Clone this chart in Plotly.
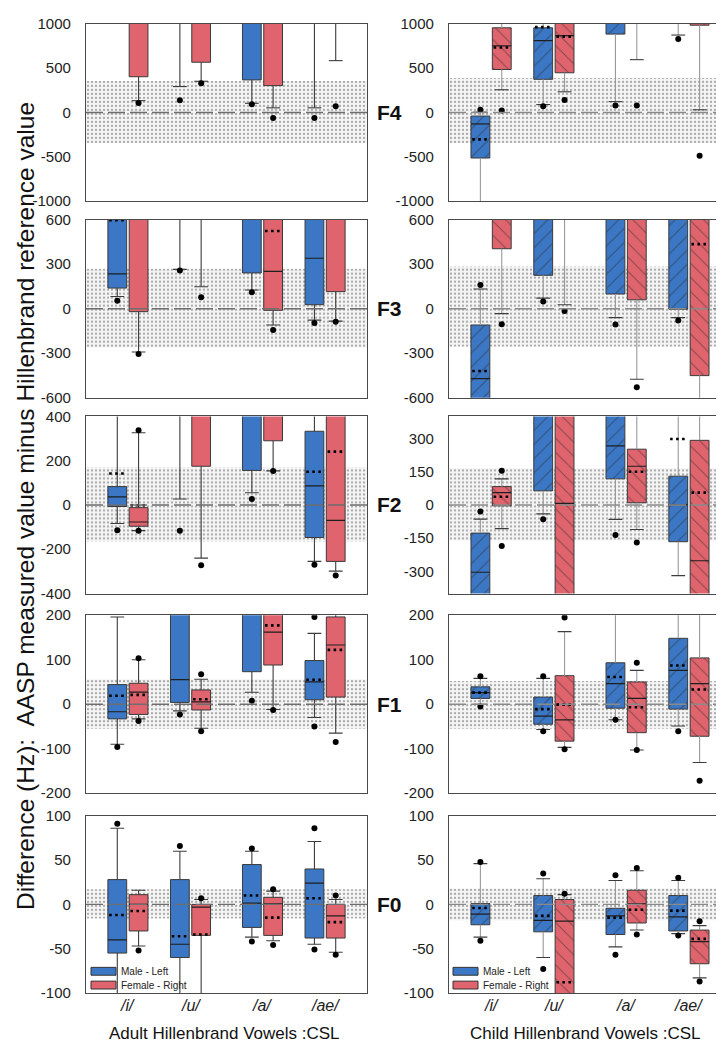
import plotly.graph_objects as go

# ---------------- data (Hz differences), vowel order: /i/, /u/, /a/, /ae/ ----------------
VOWELS = ["/i/", "/u/", "/a/", "/ae/"]
FORMANTS = ["F4", "F3", "F2", "F1", "F0"]

# Adult F4
A_F4_M = dict(q1=[1150, 1150, 367, 1150], med=[1200, 1200, 1150, 1200], q3=[1300, 1300, 1300, 1300],
              mean=[1200, 1200, 1150, 1200], wlo=[1100, 292, 103, 52], whi=[1400, 1400, 1400, 1400],
              dlo=[None, 137, 92, -63], dhi=[None, None, None, None])
A_F4_F = dict(q1=[403, 567, 303, 1150], med=[1150, 1150, 1150, 1200], q3=[1300, 1300, 1300, 1300],
              mean=[1150, 1150, 1150, 1150], wlo=[133, 352, 52, 585], whi=[1400, 1400, 1400, 1400],
              dlo=[107, 330, -63, 70], dhi=[None, None, None, None])
# Adult F3
A_F3_M = dict(q1=[139, 700, 241, 27], med=[234, 750, 700, 340], q3=[700, 800, 750, 700],
              mean=[597, 750, 700, 700], wlo=[82, 265, 126, -77], whi=[800, 850, 800, 800],
              dlo=[53, 258, 110, -97], dhi=[None, None, None, None])
A_F3_F = dict(q1=[-20, 700, -11, 115], med=[700, 750, 252, 700], q3=[750, 800, 700, 750],
              mean=[700, 750, 524, 700], wlo=[-292, 148, -110, -84], whi=[800, 850, 800, 800],
              dlo=[-305, 77, -144, -88], dhi=[None, None, None, None])
# Adult F2
A_F2_M = dict(q1=[-7, 500, 156, -147], med=[37, 520, 500, 86], q3=[83, 550, 550, 333],
              mean=[142, 520, 500, 150], wlo=[-84, 27, 55, -255], whi=[500, 600, 600, 500],
              dlo=[-114, -117, 27, -270], dhi=[None, None, None, None])
A_F2_F = dict(q1=[-96, 175, 290, -255], med=[-77, 500, 500, -70], q3=[-12, 550, 550, 500],
              mean=[-1, 500, 500, 241], wlo=[-116, -240, 154, -299], whi=[326, 600, 600, 600],
              dlo=[-117, -272, 154, -319], dhi=[338, None, None, None])
# Adult F1
A_F1_M = dict(q1=[-33, 4, 73, 10], med=[-17, 55, 300, 50], q3=[44, 300, 350, 98],
              mean=[19, 300, 300, 55], wlo=[-90, -15, 27, -30], whi=[196, 350, 400, 159],
              dlo=[-96, -23, 8, -50], dhi=[None, None, None, 196])
A_F1_F = dict(q1=[-23, -13, 88, 16], med=[27, 5, 162, 133], q3=[47, 32, 300, 196],
              mean=[21, 11, 177, 122], wlo=[-33, -54, -12, -65], whi=[100, 56, 350, 300],
              dlo=[-38, -61, -13, -85], dhi=[103, 67, None, None])
# Adult F0
A_F0_M = dict(q1=[-55, -60, -26, -38], med=[-40, -45, 1.5, 24], q3=[28, 28, 45, 40],
              mean=[-12, -36, 10, 7], wlo=[-150, -150, -37, -45], whi=[86, 60, 60, 71],
              dlo=[None, None, -42, -51], dhi=[91, 66, 63, 86])
A_F0_F = dict(q1=[-30, -35, -35, -38], med=[0, -3, 0.7, -13], q3=[11, 0, 8, 0],
              mean=[-7.5, -34, -15, -20], wlo=[-47, -150, -41, -54], whi=[16, 5.5, 15, 5.5],
              dlo=[-52, None, -46, -57], dhi=[None, 7, 17, 10])

# Child F4
C_F4_M = dict(q1=[-515, 374, 885, 1150], med=[-130, 811, 1150, 1200], q3=[-41, 956, 1300, 1300],
              mean=[-304, 963, 1150, 1200], wlo=[-1100, 89, 122, 874], whi=[4, 1100, 1400, 1400],
              dlo=[None, 70, 78, 830], dhi=[30, None, None, None])
C_F4_F = dict(q1=[485, 448, 1150, 985], med=[752, 867, 1200, 1150], q3=[956, 1150, 1300, 1300],
              mean=[733, 856, 1200, 1150], wlo=[256, 233, 596, 30], whi=[1100, 1300, 1400, 1400],
              dlo=[22, 141, 78, -489], dhi=[None, None, None, None])
# Child F3
C_F3_M = dict(q1=[-700, 225, 99, -4], med=[-471, 700, 700, 700], q3=[-110, 750, 750, 750],
              mean=[-420, 700, 700, 700], wlo=[-800, 71, -60, -60], whi=[133, 800, 800, 800],
              dlo=[None, 49, -106, -80], dhi=[159, None, None, None])
C_F3_F = dict(q1=[404, 700, 60, -451], med=[700, 750, 700, 700], q3=[750, 800, 750, 750],
              mean=[700, 750, 700, 435], wlo=[-33, 27, -475, -700], whi=[800, 850, 800, 800],
              dlo=[-104, -15, -530, None], dhi=[None, None, None, None])
# Child F2
C_F2_M = dict(q1=[-500, 64, 118, -166], med=[-304, 500, 267, 1], q3=[-127, 550, 500, 130],
              mean=[-500, 500, 500, 298], wlo=[-600, -40, -65, -319], whi=[-64, 600, 600, 500],
              dlo=[None, -65, -136, None], dhi=[-30, None, None, None])
C_F2_F = dict(q1=[-4, -500, 10, -500], med=[56, 7, 175, -252], q3=[83, 500, 252, 292],
              mean=[37, 600, 150, 56], wlo=[-107, -600, -111, -600], whi=[118, 600, 500, 500],
              dlo=[-185, None, -169, None], dhi=[155, None, None, None])
# Child F1
C_F1_M = dict(q1=[13, -45, -9, -11], med=[26, -27, 46, 76], q3=[39, 16, 93, 148],
              mean=[26, -11, 61, 87], wlo=[0, -57, -35, -49], whi=[58, 58, 300, 300],
              dlo=[-5, -61, -35, -61], dhi=[63, 63, None, None])
C_F1_F = dict(q1=[None, -83, -64, -72], med=[None, -35, 13, 46], q3=[None, 64, 50, 104],
              mean=[None, -1, -7, 33], wlo=[None, -97, -103, -131], whi=[None, 163, 76, 300],
              dlo=[None, -101, -103, -172], dhi=[None, 195, 93, None])
# Child F0
C_F0_M = dict(q1=[-23, -31, -34, -30], med=[-11, -18, -13, -14], q3=[1, 10, -4.4, 10],
              mean=[-4, -13, -15, -7], wlo=[-37, -60, -48, -33], whi=[46, 29, 27, 27],
              dlo=[-41, -73, -57, -35], dhi=[48, 35, 33, 30])
C_F0_F = dict(q1=[None, -150, -21, -67], med=[None, -19, 0.7, -42], q3=[None, 5.5, 16, -29],
              mean=[None, -88, -6, -39], wlo=[None, -200, -29, -83], whi=[None, 11, 38, -24],
              dlo=[None, None, -34, -87], dhi=[None, 12, 41, -19])

# reference-tolerance band (lo, hi) per panel
BAND_ADULT = {"F4": (-345, 355), "F3": (-262, 269), "F2": (-165, 169), "F1": (-55, 56), "F0": (-16, 17)}
BAND_CHILD = {"F4": (-345, 390), "F3": (-256, 285), "F2": (-160, 167), "F1": (-55, 52), "F0": (-18, 18)}

Y_RANGE = {"F4": (-1000, 1000), "F3": (-600, 600), "F2": (-400, 400), "F1": (-200, 200), "F0": (-100, 100)}
Y_TICKS_ADULT = {"F4": [-1000, -500, 0, 500, 1000], "F3": [-600, -300, 0, 300, 600],
                 "F2": [-400, -200, 0, 200, 400], "F1": [-200, -100, 0, 100, 200], "F0": [-100, -50, 0, 50, 100]}
Y_TICKS_CHILD = {"F4": [-1000, -500, 0, 500, 1000], "F3": [-600, -300, 0, 300, 600],
                 "F2": [-300, -150, 0, 150, 300], "F1": [-200, -100, 0, 100, 200], "F0": [-100, -50, 0, 50, 100]}

# ---------------- layout constants ----------------
W, H = 724, 1050
COL_PX = {"adult": (78, 359), "child": (441, 723)}
ROW_PX = {"F4": (7, 187), "F3": (206, 387), "F2": (406, 586), "F1": (608, 789), "F0": (812, 992)}
GROUP_X = [1.0, 2.0, 3.15, 4.15]
X_RANGE = [0.33, 4.82]
OFFSET = 0.17
BOX_W = 0.30
CAP_W = 0.22
BLUE = "#3b77c4"
RED = "#e0646d"
FONT = "Liberation Sans, Arial, sans-serif"


def px_x(p):
    return p / W


def px_y(p):
    return 1 - p / H


PANELS = [
    ("adult", "F4", A_F4_M, A_F4_F), ("child", "F4", C_F4_M, C_F4_F),
    ("adult", "F3", A_F3_M, A_F3_F), ("child", "F3", C_F3_M, C_F3_F),
    ("adult", "F2", A_F2_M, A_F2_F), ("child", "F2", C_F2_M, C_F2_F),
    ("adult", "F1", A_F1_M, A_F1_F), ("child", "F1", C_F1_M, C_F1_F),
    ("adult", "F0", A_F0_M, A_F0_F), ("child", "F0", C_F0_M, C_F0_F),
]

fig = go.Figure()
layout_axes = {}
annotations = []
shapes = []

for k, (grp, fm, male, female) in enumerate(PANELS, start=1):
    xa = "x" if k == 1 else f"x{k}"
    ya = "y" if k == 1 else f"y{k}"
    child = grp == "child"
    band = (BAND_CHILD if child else BAND_ADULT)[fm]

    # stippled reference band
    fig.add_trace(go.Bar(
        x=[(X_RANGE[0] + X_RANGE[1]) / 2], y=[band[1] - band[0]], base=[band[0]],
        width=[X_RANGE[1] - X_RANGE[0] + 0.2], xaxis=xa, yaxis=ya, showlegend=False, hoverinfo="skip",
        marker=dict(color="#f4f4f4", line=dict(width=0),
                    pattern=dict(shape=".", fgcolor="#9c9c9c", bgcolor="#f4f4f4", size=4, solidity=0.24,
                                 fillmode="replace"))))

    for sex, stats in (("M", male), ("F", female)):
        sgn = -1 if sex == "M" else 1
        color = BLUE if sex == "M" else RED
        xs = [g + sgn * OFFSET if q is not None else None for g, q in zip(GROUP_X, stats["q1"])]
        bx, by, bb = [], [], []
        for x, q1, q3 in zip(xs, stats["q1"], stats["q3"]):
            if x is None:
                continue
            bx.append(x); by.append(q3 - q1); bb.append(q1)
        pattern = None
        if child:
            pattern = dict(shape="/" if sex == "M" else "\\", fgcolor="#2a2a2a", size=10, solidity=0.1,
                           fillmode="overlay")
        # whiskers
        wx, wy, cx, cy = [], [], [], []
        for x, q1, q3, lo, hi in zip(xs, stats["q1"], stats["q3"], stats["wlo"], stats["whi"]):
            if x is None:
                continue
            wx += [x, x, None, x, x, None]
            wy += [q3, hi, None, q1, lo, None]
            cx += [x - CAP_W / 2, x + CAP_W / 2, None, x - CAP_W / 2, x + CAP_W / 2, None]
            cy += [hi, hi, None, lo, lo, None]
        fig.add_trace(go.Scatter(x=wx, y=wy, mode="lines", xaxis=xa, yaxis=ya, showlegend=False,
                                 hoverinfo="skip",
                                 line=dict(color="#9a9a9a" if child else "#3c3c3c", width=1.1)))
        fig.add_trace(go.Scatter(x=cx, y=cy, mode="lines", xaxis=xa, yaxis=ya, showlegend=False,
                                 hoverinfo="skip", line=dict(color="#3c3c3c", width=1.1)))
        fig.add_trace(go.Bar(x=bx, y=by, base=bb, width=[BOX_W] * len(bx), xaxis=xa, yaxis=ya,
                             showlegend=False, hoverinfo="skip",
                             marker=dict(color=color, line=dict(color="#3a3a3a", width=1), pattern=pattern)))
        # medians and means
        mx, my, ex, ey = [], [], [], []
        for x, md, mn in zip(xs, stats["med"], stats["mean"]):
            if x is None:
                continue
            mx += [x - BOX_W / 2, x + BOX_W / 2, None]
            my += [md, md, None]
            ex += [x - BOX_W / 2 + 0.02, x + BOX_W / 2 - 0.02, None]
            ey += [mn, mn, None]
        fig.add_trace(go.Scatter(x=mx, y=my, mode="lines", xaxis=xa, yaxis=ya, showlegend=False,
                                 hoverinfo="skip", line=dict(color="#1e1e1e", width=1.2)))
        fig.add_trace(go.Scatter(x=ex, y=ey, mode="lines", xaxis=xa, yaxis=ya, showlegend=False,
                                 hoverinfo="skip", line=dict(color="#000000", width=2.6, dash="2.6px,3.4px")))
        # outlier dots (5th / 95th percentiles)
        dx, dy = [], []
        for x, lo, hi in zip(xs, stats["dlo"], stats["dhi"]):
            if x is None:
                continue
            for v in (lo, hi):
                if v is not None:
                    dx.append(x); dy.append(v)
        fig.add_trace(go.Scatter(x=dx, y=dy, mode="markers", xaxis=xa, yaxis=ya, showlegend=False,
                                 hoverinfo="skip", marker=dict(color="#000000", size=6)))

    # zero reference line
    fig.add_trace(go.Scatter(x=X_RANGE, y=[0, 0], mode="lines", xaxis=xa, yaxis=ya, showlegend=False,
                             hoverinfo="skip",
                             line=dict(color="#8a8a8a" if child else "#6e6e6e", width=1.4, dash="17px,5px")))

    c0, c1 = COL_PX[grp]
    r0, r1 = ROW_PX[fm]
    bottom = fm == "F0"
    xkey = "xaxis" if k == 1 else f"xaxis{k}"
    ykey = "yaxis" if k == 1 else f"yaxis{k}"
    layout_axes[xkey] = dict(domain=[px_x(c0), px_x(c1)], range=X_RANGE, anchor=ya, showgrid=False,
                             zeroline=False, showline=True, mirror=True, linecolor="#4a4a4a", linewidth=1.3,
                             ticks="", showticklabels=False, fixedrange=True)
    ticks = (Y_TICKS_CHILD if child else Y_TICKS_ADULT)[fm]
    layout_axes[ykey] = dict(domain=[px_y(r1), px_y(r0)], range=list(Y_RANGE[fm]), anchor=xa,
                             showgrid=False, zeroline=False, showline=True, mirror=True,
                             linecolor="#4a4a4a", linewidth=1.3, ticks="", tickvals=ticks,
                             ticktext=[str(t) for t in ticks],
                             tickfont=dict(family=FONT, size=15, color="#222"), ticklabelstandoff=11,
                             fixedrange=True)
    if bottom:
        for g, v in zip(GROUP_X, VOWELS):
            annotations.append(dict(text=f"<i>{v}</i>", x=g, xref=xa, y=px_y(1005), yref="paper",
                                    showarrow=False, xanchor="center", yanchor="middle",
                                    font=dict(family=FONT, size=16, color="#222")))
    if child:
        annotations.append(dict(text=f"<b>{fm}</b>", x=px_x(381), xref="paper", y=0, yref=ya,
                                showarrow=False, xanchor="center", yanchor="middle",
                                font=dict(family=FONT, size=21, color="#111")))

# axis titles
annotations.append(dict(text="Difference (Hz):  AASP measured value minus Hillenbrand reference value",
                        x=px_x(18), y=px_y(497), xref="paper", yref="paper", showarrow=False,
                        textangle=-90, xanchor="center", yanchor="middle",
                        font=dict(family=FONT, size=24.5, color="#111")))
annotations.append(dict(text="Adult Hillenbrand Vowels :CSL", x=px_x(216), y=px_y(1033), xref="paper",
                        yref="paper", showarrow=False, xanchor="center", yanchor="middle",
                        font=dict(family=FONT, size=17, color="#111")))
annotations.append(dict(text="Child Hillenbrand Vowels :CSL", x=px_x(577), y=px_y(1033), xref="paper",
                        yref="paper", showarrow=False, xanchor="center", yanchor="middle",
                        font=dict(family=FONT, size=17, color="#111")))

# legends inside both F0 panels
for lx in (83, 445):
    for i, (lab, col) in enumerate((("Male - Left", BLUE), ("Female - Right", RED))):
        yc = 970 + i * 14
        shapes.append(dict(type="rect", xref="paper", yref="paper", x0=px_x(lx), x1=px_x(lx + 25),
                           y0=px_y(yc + 4), y1=px_y(yc - 4), fillcolor=col,
                           line=dict(color="#333", width=1)))
        annotations.append(dict(text=lab, x=px_x(lx + 28), y=px_y(yc), xref="paper", yref="paper",
                                showarrow=False, xanchor="left", yanchor="middle",
                                font=dict(family=FONT, size=10, color="#222")))

fig.update_layout(width=W, height=H, margin=dict(l=0, r=0, t=0, b=0), paper_bgcolor="white",
                  plot_bgcolor="white", barmode="overlay", showlegend=False, annotations=annotations,
                  shapes=shapes, font=dict(family=FONT), **layout_axes)

fig.write_html("out.html")
